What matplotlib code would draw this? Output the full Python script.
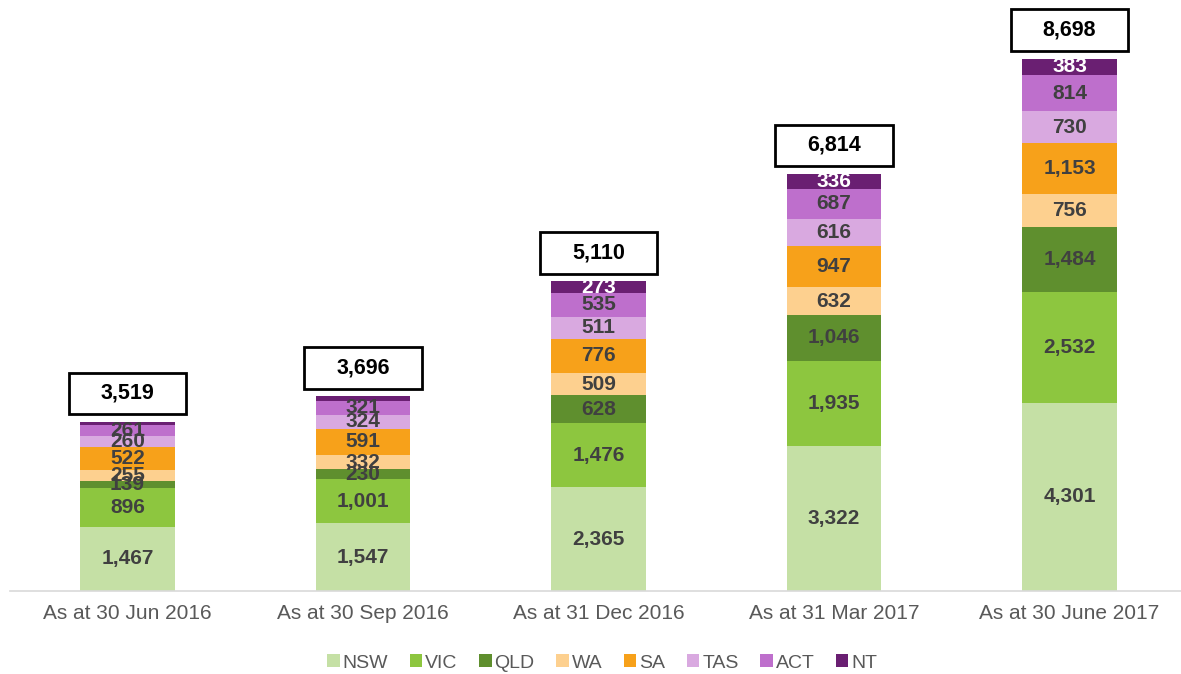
import matplotlib
matplotlib.use("Agg")
import matplotlib.pyplot as plt
from matplotlib.patches import Rectangle
import numpy as np

plt.rcParams['font.family'] = ['Liberation Sans', 'DejaVu Sans']

categories = ["As at 30 Jun 2016", "As at 30 Sep 2016", "As at 31 Dec 2016",
              "As at 31 Mar 2017", "As at 30 June 2017"]
states = ["NSW", "VIC", "QLD", "WA", "SA", "TAS", "ACT", "NT"]
NSW = [1467, 1547, 2365, 3322, 4301]
VIC = [896, 1001, 1476, 1935, 2532]
QLD = [139, 230, 628, 1046, 1484]
WA = [255, 332, 509, 632, 756]
SA = [522, 591, 776, 947, 1153]
TAS = [260, 324, 511, 616, 730]
ACT = [261, 321, 535, 687, 814]
NT = [60, 100, 273, 336, 383]
NT_labelled = [False, False, True, True, True]
totals = [3519, 3696, 5110, 6814, 8698]

series = [NSW, VIC, QLD, WA, SA, TAS, ACT, NT]
colors = ["#C5E0A5", "#8DC63F", "#5F8F2E", "#FDD08F", "#F7A11A", "#D9A9E0", "#BE6FCC", "#6A1F72"]

fig = plt.figure(figsize=(11.81, 6.74), dpi=100)
ax = fig.add_axes([0.0083, 0.123, 0.997, 0.877])

x = np.arange(len(categories))
width = 0.40
bottom = np.zeros(len(categories))
for name, vals, col in zip(states, series, colors):
    vals = np.array(vals, dtype=float)
    ax.bar(x, vals, width, bottom=bottom, color=col, label=name, zorder=2)
    for i, v in enumerate(vals):
        if name == "NT":
            if not NT_labelled[i]:
                continue
            tc = "white"
        else:
            tc = "#404040"
        ax.text(x[i], bottom[i] + v / 2, f"{int(v):,}", ha="center", va="center",
                fontsize=15, fontweight="bold", color=tc, zorder=3)
    bottom += vals

box_w = 0.50
box_h = 950
for i, t in enumerate(totals):
    y0 = bottom[i] + 175
    ax.add_patch(Rectangle((x[i] - box_w / 2, y0), box_w, box_h, facecolor="white",
                           edgecolor="black", linewidth=2.0, zorder=4))
    ax.text(x[i], y0 + box_h / 2, f"{t:,}", ha="center", va="center",
            fontsize=15.5, fontweight="bold", color="black", zorder=5)

ax.set_xlim(-0.5, 4.5)
ax.set_ylim(0, 13490)
ax.set_xticks(x)
ax.set_xticklabels(categories, fontsize=15, color="#595959")
ax.tick_params(axis="x", length=0, pad=9)
ax.set_yticks([])
for s in ["top", "right", "left"]:
    ax.spines[s].set_visible(False)
ax.spines["bottom"].set_color("#D9D9D9")
ax.spines["bottom"].set_linewidth(1.2)

leg = fig.legend(loc="center", bbox_to_anchor=(0.51, 1 - 663 / 674), ncol=8, frameon=False,
                 fontsize=14, handlelength=0.65, handleheight=0.65, handletextpad=0.15,
                 columnspacing=1.1)
for t in leg.get_texts():
    t.set_color("#595959")

fig.savefig("out.png", dpi=100)
